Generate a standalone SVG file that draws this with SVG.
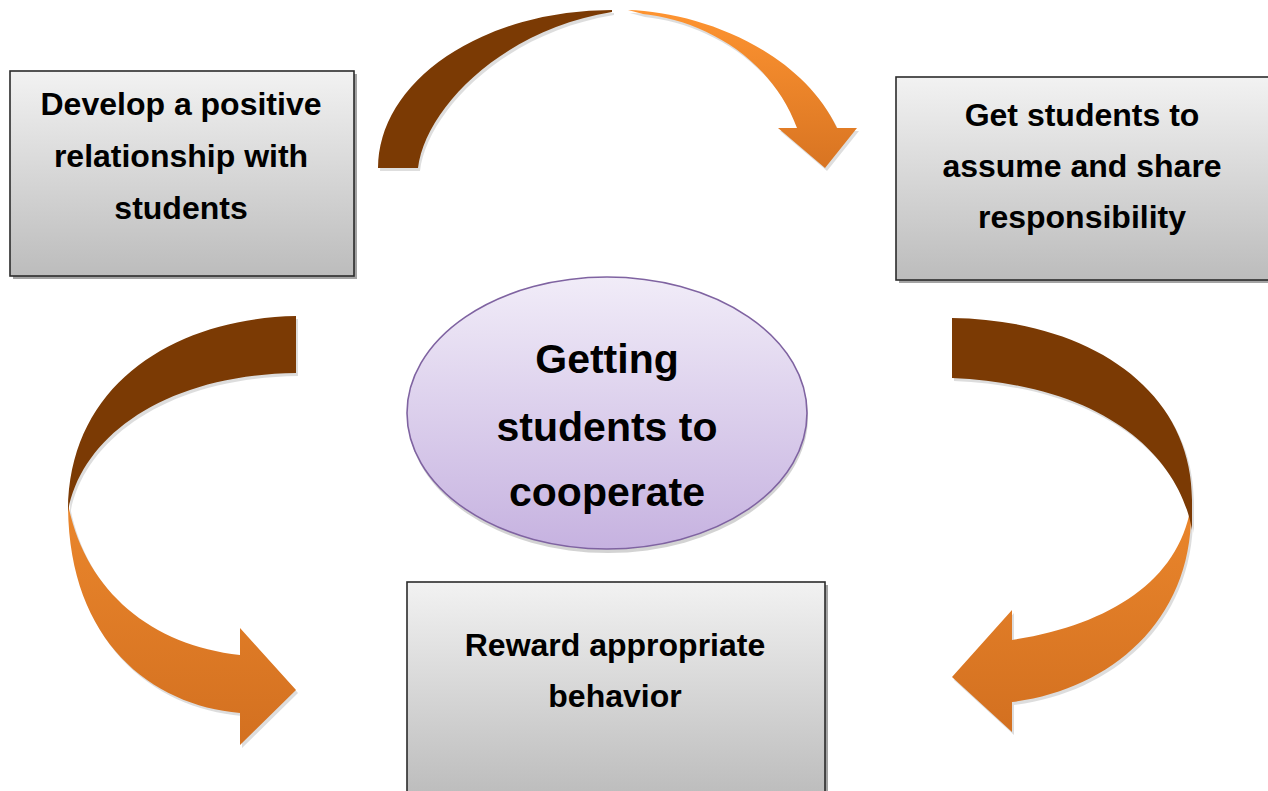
<svg xmlns="http://www.w3.org/2000/svg" width="1268" height="791" viewBox="0 0 1268 791">
<defs>
<linearGradient id="boxGrad" x1="0" y1="0" x2="0" y2="1">
<stop offset="0" stop-color="#f2f2f2"/>
<stop offset="1" stop-color="#bcbcbc"/>
</linearGradient>
<linearGradient id="ellGrad" x1="0" y1="0" x2="0" y2="1">
<stop offset="0" stop-color="#f1ecf8"/>
<stop offset="1" stop-color="#c6b2e0"/>
</linearGradient>
<linearGradient id="orTop" x1="0" y1="0" x2="0" y2="1">
<stop offset="0" stop-color="#fe9431"/>
<stop offset="1" stop-color="#d87422"/>
</linearGradient>
<linearGradient id="orSide" x1="0" y1="0" x2="0" y2="1">
<stop offset="0" stop-color="#ea862c"/>
<stop offset="1" stop-color="#d37020"/>
</linearGradient>
<style>
.box{fill:url(#boxGrad);stroke:#2b2b2b;stroke-width:1.6}
.shadow{fill:#a3a3a3}
.ashadow{fill:#000;opacity:0.13}
.dark{fill:#7b3a04}
.lbl{font-family:"Liberation Sans",Arial,sans-serif;font-weight:bold;font-size:32px;fill:#000;text-anchor:middle}
.clbl{font-family:"Liberation Sans",Arial,sans-serif;font-weight:bold;font-size:41px;fill:#000;text-anchor:middle}
</style>
</defs>
<rect width="1268" height="791" fill="#ffffff"/>

<g id="connectors">
<g id="arrow-top">
<g class="ashadow" transform="translate(2,3)">
<path d="M378,168 A234,158 0 0 1 612,10 L612,12 C500,30 425,110 418,168 Z"/>
<path d="M628,10 C700,12 800,50 837,128 L857,128 L825,168 L778,128 L797,128 C770,55 700,20 643,14 Z"/>
</g>
<path class="dark" d="M378,168 A234,158 0 0 1 612,10 L612,12 C500,30 425,110 418,168 Z"/>
<path fill="url(#orTop)" d="M628,10 C700,12 800,50 837,128 L857,128 L825,168 L778,128 L797,128 C770,55 700,20 643,14 Z"/>
</g>
<g id="arrow-left">
<g class="ashadow" transform="translate(2,3)">
<path d="M296,316 C180,318 68,380 68,512 C80,440 160,375 296,373 Z"/>
<path d="M68,504 C68,640 150,705 240,713 L240,745 L296,690 L240,628 L240,655 C150,645 85,590 68,504 Z"/>
</g>
<path fill="url(#orSide)" d="M68,504 C68,640 150,705 240,713 L240,745 L296,690 L240,628 L240,655 C150,645 85,590 68,504 Z"/>
<path class="dark" d="M296,316 C180,318 68,380 68,512 C80,440 160,375 296,373 Z"/>
</g>
<g id="arrow-right">
<g class="ashadow" transform="translate(2,3)">
<path d="M952,318 C1090,320 1192,390 1192,500 L1192,530 C1180,460 1110,385 952,378 Z"/>
<path d="M1191,505 C1195,620 1110,690 1012,702 L1012,732 L952,677 L1012,610 L1012,640 C1110,625 1180,580 1191,505 Z"/>
</g>
<path fill="url(#orSide)" d="M1191,505 C1195,620 1110,690 1012,702 L1012,732 L952,677 L1012,610 L1012,640 C1110,625 1180,580 1191,505 Z"/>
<path class="dark" d="M952,318 C1090,320 1192,390 1192,500 L1192,530 C1180,460 1110,385 952,378 Z"/>
</g>
</g>

<g id="node-develop">
<rect class="shadow" x="13" y="74" width="344" height="205"/>
<rect class="box" x="10" y="71" width="344" height="205"/>
<text class="lbl" x="181" y="115">Develop a positive</text>
<text class="lbl" x="181" y="167">relationship with</text>
<text class="lbl" x="181" y="219">students</text>
</g>

<g id="node-share">
<rect class="shadow" x="899" y="80" width="380" height="203"/>
<rect class="box" x="896" y="77" width="380" height="203"/>
<text class="lbl" x="1082" y="126">Get students to</text>
<text class="lbl" x="1082" y="177">assume and share</text>
<text class="lbl" x="1082" y="228">responsibility</text>
</g>

<g id="node-reward">
<rect class="shadow" x="410" y="585" width="418" height="215"/>
<rect class="box" x="407" y="582" width="418" height="215"/>
<text class="lbl" x="615" y="656">Reward appropriate</text>
<text class="lbl" x="615" y="707">behavior</text>
</g>

<g id="node-center">
<ellipse cx="608" cy="417" rx="200" ry="136" fill="#9e9e9e" opacity="0.45"/>
<ellipse cx="607" cy="413" rx="200" ry="136" fill="url(#ellGrad)" stroke="#7f63a1" stroke-width="1.6"/>
<text class="clbl" x="607" y="373">Getting</text>
<text class="clbl" x="607" y="441">students to</text>
<text class="clbl" x="607" y="506">cooperate</text>
</g>
</svg>
